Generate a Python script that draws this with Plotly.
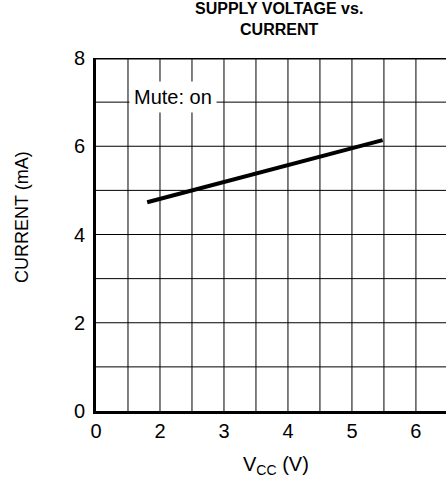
import plotly.graph_objects as go

# data
vcc = [1.8, 5.48]
current = [4.73, 6.14]
x_tickvals = [1, 2, 3, 4, 5, 6]
x_ticktext = ["0", "2", "3", "4", "5", "6"]
y_tickvals = [0, 2, 4, 6, 8]

FONT = "Liberation Sans, Arial, sans-serif"
W, H = 446, 481
L, R, T, B = 96, 0, 58, 70
PW, PH = W - L - R, H - T - B


def px_x(p):
    return (p - L) / PW


def px_y(p):
    return (H - B - p) / PH


fig = go.Figure()
fig.add_trace(go.Scatter(x=vcc, y=current, mode="lines",
                         line=dict(color="black", width=4), showlegend=False,
                         hoverinfo="skip"))

fig.update_layout(
    width=W, height=H,
    margin=dict(l=L, r=R, t=T, b=B, autoexpand=False),
    paper_bgcolor="white", plot_bgcolor="white",
    font=dict(family=FONT, color="black", size=20),
    xaxis=dict(range=[1, 6.47], tickvals=x_tickvals, ticktext=x_ticktext,
               showgrid=False, zeroline=False, showline=True, linewidth=3,
               linecolor="black", ticks="", tickfont=dict(size=20), automargin=False),
    yaxis=dict(range=[0, 8], tickvals=y_tickvals, showgrid=False, zeroline=False,
               showline=True, linewidth=3, linecolor="black", ticks="",
               tickfont=dict(size=20), ticklabelstandoff=4, automargin=False),
)

# grid lines every 0.5 V and every 1 mA
shapes = []
for i in range(1, 11):
    xv = 1 + 0.5 * i
    shapes.append(dict(type="line", xref="x", yref="y", x0=xv, x1=xv, y0=0, y1=8,
                       line=dict(color="black", width=1), layer="below"))
for j in range(1, 8):
    shapes.append(dict(type="line", xref="paper", yref="y", x0=0, x1=1, y0=j, y1=j,
                       line=dict(color="black", width=1), layer="below"))
shapes.append(dict(type="line", xref="paper", yref="y", x0=0, x1=1, y0=8, y1=8,
                   line=dict(color="black", width=3)))
fig.update_layout(shapes=shapes)

fig.add_annotation(x=2.2, y=7.12, xref="x", yref="y", text="Mute: on", showarrow=False,
                   bgcolor="white", font=dict(size=20), borderpad=4)

fig.add_annotation(xref="paper", yref="paper", x=px_x(279), y=px_y(19),
                   xanchor="center", yanchor="middle", showarrow=False,
                   text="<b>SUPPLY VOLTAGE vs.<br>CURRENT</b>", font=dict(size=16))
fig.add_annotation(xref="paper", yref="paper", x=px_x(276), y=px_y(465),
                   xanchor="center", yanchor="middle", showarrow=False,
                   text="V<sub>CC</sub> (V)", font=dict(size=20))
fig.add_annotation(xref="paper", yref="paper", x=px_x(22), y=px_y(217),
                   xanchor="center", yanchor="middle", showarrow=False, textangle=-90,
                   text="CURRENT (mA)", font=dict(size=18))

fig.write_html("out.html", config={"displayModeBar": False},
               post_script="document.body.style.margin='0';")
